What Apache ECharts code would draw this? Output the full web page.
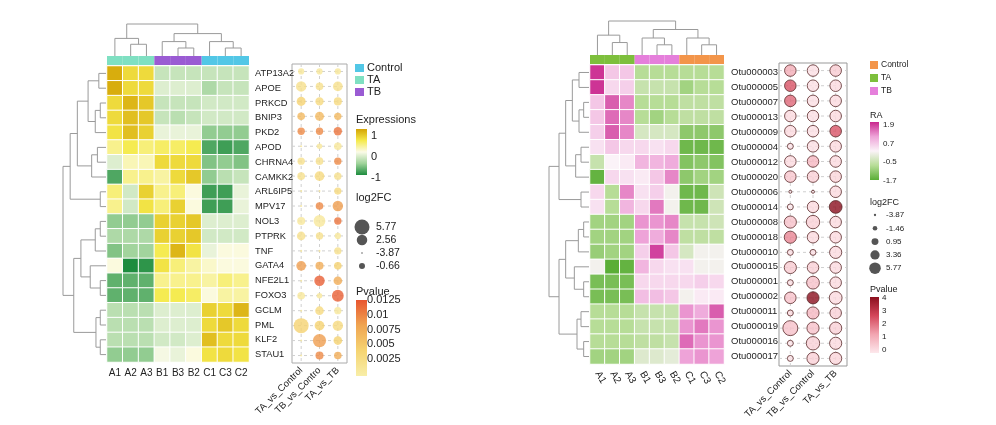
<!DOCTYPE html>
<html>
<head>
<meta charset="utf-8">
<script src="https://cdn.jsdelivr.net/npm/echarts@6/dist/echarts.min.js"></script>
<style>html,body{margin:0;padding:0;background:#fff}#main{width:996px;height:425px}</style>
</head>
<body>
<div id="main"></div>
<script>
// ---- left panel data ----
var leftCols = ['A1', 'A2', 'A3', 'B1', 'B3', 'B2', 'C1', 'C3', 'C2'];
var leftGroups = [1, 1, 1, 2, 2, 2, 0, 0, 0]; // 0 Control, 1 TA, 2 TB
var genes = ['ATP13A2', 'APOE', 'PRKCD', 'BNIP3', 'PKD2', 'APOD', 'CHRNA4', 'CAMKK2', 'ARL6IP5', 'MPV17',
    'NOL3', 'PTPRK', 'TNF', 'GATA4', 'NFE2L1', 'FOXO3', 'GCLM', 'PML', 'KLF2', 'STAU1'];
var expr = [
    [1.4, 0.9, 0.9, -0.5, -0.5, -0.5, -0.5, -0.5, -0.5],
    [1.4, 0.9, 0.9, -0.3, -0.3, -0.3, -0.7, -0.5, -0.5],
    [0.9, 1.3, 1.1, -0.5, -0.5, -0.5, -0.4, -0.4, -0.4],
    [0.9, 1.2, 1.1, -0.5, -0.6, -0.5, -0.4, -0.4, -0.4],
    [0.8, 1.2, 1.0, -0.2, -0.2, -0.2, -0.9, -0.9, -0.9],
    [0.4, 0.7, 0.5, 0.6, 0.6, 0.7, -1.3, -1.4, -1.3],
    [-0.3, 0.2, 0.2, 0.9, 0.9, 0.9, -1.0, -0.9, -1.0],
    [-1.3, 0.4, 0.4, 0.3, 0.9, 1.1, -0.9, -0.6, -0.5],
    [0.5, -0.4, 1.0, 0.4, 0.5, 0.0, -1.4, -1.4, -0.2],
    [0.4, -0.4, 0.8, 0.5, 1.0, 0.0, -1.4, -1.4, -0.2],
    [-0.9, -0.9, -0.9, 1.0, 1.0, 1.1, -0.3, -0.3, -0.3],
    [-0.7, -0.7, -0.7, 1.0, 1.0, 1.1, -0.4, -0.4, -0.4],
    [-1.0, -0.8, -0.8, 0.7, 1.3, 0.8, -0.2, 0.0, 0.0],
    [0.0, -1.6, -1.5, 0.8, 0.5, 0.3, 0.1, 0.0, 0.0],
    [-1.2, -1.2, -1.2, 0.4, 0.4, 0.4, 0.3, 0.5, 0.4],
    [-1.2, -1.2, -1.2, 0.7, 0.7, 0.6, 0.0, 0.3, 0.3],
    [-0.6, -0.6, -0.6, -0.3, -0.3, -0.3, 1.0, 0.9, 1.3],
    [-0.6, -0.6, -0.6, -0.3, -0.3, -0.3, 0.9, 1.1, 0.9],
    [-0.6, -0.6, -0.6, -0.4, -0.4, -0.3, 1.2, 0.9, 0.9],
    [-0.9, -0.9, -0.9, -0.1, -0.2, 0.0, 0.8, 0.9, 0.8]
];
var leftComps = ['TA_vs_Control', 'TB_vs_Contro', 'TA_vs_TB'];
// [log2FC, pvalue] per comparison
var leftFC = [
    [[-0.5, 0.002], [-0.5, 0.002], [-0.5, 0.002]],
    [[2.5, 0.003], [0.5, 0.003], [2.0, 0.003]],
    [[1.5, 0.005], [1.0, 0.004], [0.8, 0.004]],
    [[0.5, 0.007], [1.5, 0.007], [0.3, 0.007]],
    [[0.3, 0.010], [0.3, 0.010], [1.0, 0.011]],
    [[-3.5, 0.002], [-1.0, 0.002], [0.5, 0.002]],
    [[0.3, 0.003], [0.5, 0.003], [0.3, 0.010]],
    [[0.5, 0.003], [2.0, 0.004], [0.3, 0.003]],
    [[-3.5, 0.002], [-3.5, 0.002], [0.2, 0.004]],
    [[-3.5, 0.002], [0.5, 0.010], [2.5, 0.009]],
    [[0.8, 0.002], [3.5, 0.002], [0.3, 0.011]],
    [[1.2, 0.003], [0.3, 0.003], [-0.5, 0.002]],
    [[-3.5, 0.002], [-3.5, 0.002], [0.2, 0.003]],
    [[2.0, 0.009], [0.8, 0.008], [0.5, 0.005]],
    [[-3.5, 0.002], [2.5, 0.012], [1.2, 0.008]],
    [[0.5, 0.002], [-1.0, 0.002], [3.5, 0.012]],
    [[-3.5, 0.002], [1.2, 0.004], [0.2, 0.002]],
    [[5.77, 0.005], [2.0, 0.005], [2.5, 0.004]],
    [[-3.5, 0.002], [4.5, 0.009], [1.2, 0.005]],
    [[-3.5, 0.002], [0.8, 0.010], [0.5, 0.008]]
];
var leftColTree = [[0, [1, 2, 2.2], 3.3], [[3, [4, 5, 1.5], 2.7], [6, [7, 8, 1.5], 2.7], 4.2], 6];
var leftRowTree = [[[[[0, 1, 1], [[2, 3, 0.8], 4, 1.5], 2.5], [[5, 6, 1.2], 7, 2], 4], [8, 9, 0.8], 5],
    [[[[10, 11, 0.8], 12, 1.5], [13, [14, 15, 0.8], 2.2], 3.5], [[16, 17, 0.8], [18, 19, 0.8], 1.4], 4.5], 6];

// ---- right panel data ----
var rightCols = ['A1', 'A2', 'A3', 'B1', 'B3', 'B2', 'C1', 'C3', 'C2'];
var rightGroups = [1, 1, 1, 2, 2, 2, 0, 0, 0];
var otus = ['Otu000003', 'Otu000005', 'Otu000007', 'Otu000013', 'Otu000009', 'Otu000004', 'Otu000012', 'Otu000020',
    'Otu000006', 'Otu000014', 'Otu000008', 'Otu000018', 'Otu000010', 'Otu000015', 'Otu000001', 'Otu000002',
    'Otu000011', 'Otu000019', 'Otu000016', 'Otu000017'];
var ra = [
    [1.8, 0.6, 0.6, -0.8, -0.8, -0.8, -0.8, -0.8, -0.8],
    [1.8, 0.4, 0.5, -0.6, -0.6, -0.6, -1.0, -0.8, -0.8],
    [0.6, 1.5, 1.2, -0.8, -0.8, -0.8, -0.7, -0.7, -0.7],
    [0.6, 1.4, 1.2, -0.8, -1.0, -0.8, -0.7, -0.7, -0.7],
    [0.5, 1.5, 1.2, -0.4, -0.4, -0.4, -1.2, -1.2, -1.2],
    [0.3, 0.6, 0.4, 0.4, 0.3, 0.4, -1.5, -1.5, -1.5],
    [-0.6, 0.1, 0.2, 0.8, 0.8, 0.9, -1.3, -1.2, -1.3],
    [-1.6, 0.4, 0.3, 0.2, 0.6, 1.2, -1.2, -1.0, -1.0],
    [0.4, -0.8, 1.2, 0.3, 0.5, 0.0, -1.5, -1.5, -0.5],
    [0.3, -0.8, 0.8, 0.4, 1.3, 0.0, -1.5, -1.5, -0.5],
    [-1.0, -1.0, -1.0, 1.1, 1.1, 1.2, -0.6, -0.6, -0.5],
    [-1.0, -1.0, -1.0, 1.0, 0.9, 1.2, -0.7, -0.7, -0.7],
    [-1.1, -1.0, -1.0, 0.5, 1.7, 0.6, -0.4, 0.0, 0.0],
    [0.0, -1.7, -1.6, 0.8, 0.4, 0.3, 0.3, 0.0, 0.0],
    [-1.4, -1.4, -1.4, 0.4, 0.4, 0.4, 0.4, 0.5, 0.4],
    [-1.4, -1.4, -1.4, 0.7, 0.7, 0.6, 0.0, 0.2, 0.2],
    [-0.8, -0.8, -0.8, -0.6, -0.6, -0.6, 1.1, 0.9, 1.5],
    [-0.8, -0.8, -0.8, -0.6, -0.6, -0.6, 1.1, 1.3, 1.1],
    [-0.8, -0.8, -0.8, -0.7, -0.7, -0.6, 1.4, 1.1, 1.1],
    [-1.0, -1.0, -1.0, -0.3, -0.3, -0.2, 1.0, 1.1, 1.0]
];
var rightComps = ['TA_vs_Control', 'TB_vs_Control', 'TA_vs_TB'];
var rightFC = [
    [[3, 1.2], [3, 0.2], [3, 0.6]],
    [[3, 2.5], [3, 0.2], [3, 0.3]],
    [[3, 2.2], [3, 0.2], [3, 0.3]],
    [[3, 0.3], [3, 0.2], [3, 0.3]],
    [[3, 0.3], [3, 0.2], [3, 2.5]],
    [[-1.5, 0.1], [3, 0.2], [3, 0.3]],
    [[3, 0.3], [3, 1.0], [3, 0.3]],
    [[3, 0.7], [3, 0.5], [3, 0.4]],
    [[-3.87, 0], [-3.87, 0], [3, 0.3]],
    [[-1.5, 0], [3, 0.3], [4, 4]],
    [[3.5, 0.8], [4.5, 0.5], [3, 0.3]],
    [[3.5, 1.8], [3, 0.3], [3, 0.3]],
    [[-1.5, 0.2], [-1.5, 0.2], [3.5, 0.3]],
    [[3.5, 0.6], [3, 0.5], [3, 0.3]],
    [[-1.5, 0.2], [4, 0.8], [3, 0.3]],
    [[3, 0.8], [3.5, 4], [4, 0.3]],
    [[-1.5, 0.3], [3.5, 1.0], [3, 0.5]],
    [[5.77, 0.8], [3.5, 0.8], [3.5, 0.5]],
    [[-1.5, 0.1], [4.5, 0.5], [3.5, 0.3]],
    [[-1.5, 0.1], [3.5, 0.5], [3.5, 0.4]]
];
var rightColTree = [[0, [1, 2, 2.2], 3.5], [[3, [4, 5, 1.8], 3], [6, [7, 8, 1.8], 3], 4.5], 6];
var rightRowTree = [[[[[0, 1, 1.5], [[2, 3, 0.8], 4, 1.5], 2.5], [[5, 6, 1.2], 7, 2], 3.5], [8, 9, 1.2], 4.5],
    [[[[10, 11, 0.8], 12, 1.6], [13, [14, 15, 0.8], 2.2], 3.5], [[16, 17, 1.2], [18, 19, 0.8], 1.8], 4.5], 6];

var leftLegendFC = [5.77, 2.56, -3.87, -0.66];
var rightLegendFC = [-3.87, -1.46, 0.95, 3.36, 5.77];
var leftPTicks = ['0.0125', '0.01', '0.0075', '0.005', '0.0025'];
var rightPTicks = ['4', '3', '2', '1', '0'];
var raTicks = ['1.9', '0.7', '-0.5', '-1.7'];
var exprTicks = ['1', '0', '-1'];

var FONT = 'Liberation Sans';
var leftGroupColors = ['#52c7e6', '#7fe0c2', '#9a5bd3'];
var rightGroupColors = ['#f3954a', '#7dbf3c', '#e57fdb'];

function leftSize(v) { return 1.5 + (v + 3.87) / 9.64 * 13.5; }
function rightSize(v) { return 3 + (v + 3.87) / 9.64 * 12; }

// turn a nested tree into elbow segments [pos1, h1, pos2, h2]
function treeSegs(tree) {
    var out = [];
    function walk(n) {
        if (typeof n === 'number') return [n, 0];
        var a = walk(n[0]), b = walk(n[1]), h = n[2];
        out.push([a[0], a[1], a[0], h], [a[0], h, b[0], h], [b[0], h, b[0], b[1]]);
        return [(a[0] + b[0]) / 2, h];
    }
    walk(tree);
    return out;
}

function heatData(m) {
    var d = [];
    m.forEach(function (row, r) { row.forEach(function (v, c) { d.push([c, r, v]); }); });
    return d;
}
function bubbleData(m) {
    var d = [];
    m.forEach(function (row, r) { row.forEach(function (v, c) { d.push([c, r, v[0], v[1]]); }); });
    return d;
}

function dendroSeries(tree, xi, yi, flip) {
    return {
        type: 'custom', xAxisIndex: xi, yAxisIndex: yi, silent: true,
        data: treeSegs(tree),
        renderItem: function (params, api) {
            var a = flip ? [api.value(1), api.value(0)] : [api.value(0), api.value(1)];
            var b = flip ? [api.value(3), api.value(2)] : [api.value(2), api.value(3)];
            var p1 = api.coord(a), p2 = api.coord(b);
            return { type: 'line', shape: { x1: p1[0], y1: p1[1], x2: p2[0], y2: p2[1] },
                style: { stroke: '#9a9a9a', lineWidth: 1 } };
        }
    };
}

function dashSeries(nRows, nCols, xi, yi) {
    var d = [];
    for (var r = 0; r < nRows; r++) d.push([0, r, 0]);
    for (var c = 0; c < nCols; c++) d.push([c, 0, 1]);
    return {
        type: 'custom', xAxisIndex: xi, yAxisIndex: yi, silent: true, z: 1, data: d,
        renderItem: function (params, api) {
            var cs = params.coordSys, p = api.coord([api.value(0), api.value(1)]);
            var shape = api.value(2) === 0
                ? { x1: cs.x, y1: p[1], x2: cs.x + cs.width, y2: p[1] }
                : { x1: p[0], y1: cs.y, x2: p[0], y2: cs.y + cs.height };
            return { type: 'line', shape: shape, style: { stroke: '#d0d0d0', lineWidth: 1, lineDash: [3, 3] } };
        }
    };
}

function annoData(groups, colors) {
    return groups.map(function (g) { return { value: 1, itemStyle: { color: colors[g] } }; });
}

var hide = { show: false };
function catX(data, gi, extra) {
    return Object.assign({ type: 'category', data: data, gridIndex: gi, axisLine: hide, axisTick: hide, splitLine: hide }, extra || {});
}
function catY(data, gi, extra) {
    return Object.assign({ type: 'category', data: data, gridIndex: gi, inverse: true, axisLine: hide, axisTick: hide, splitLine: hide }, extra || {});
}
function valAxis(gi, min, max, extra) {
    return Object.assign({ type: 'value', gridIndex: gi, min: min, max: max, show: false }, extra || {});
}

var grids = [
    { left: 107, top: 66, width: 142, height: 296 },           // 0 left heat
    { left: 107, top: 56, width: 142, height: 9 },             // 1 left anno
    { left: 107, top: 24, width: 142, height: 32 },            // 2 left col dendro
    { left: 63, top: 66, width: 43, height: 296 },             // 3 left row dendro
    { left: 292, top: 64, width: 55, height: 299, show: true, borderColor: '#aaa', borderWidth: 1 }, // 4 left bubble
    { left: 590, top: 65, width: 134, height: 299 },           // 5 right heat
    { left: 590, top: 55, width: 134, height: 9 },             // 6 right anno
    { left: 590, top: 21, width: 134, height: 34 },            // 7 right col dendro
    { left: 549, top: 65, width: 40, height: 299 },            // 8 right row dendro
    { left: 779, top: 63, width: 68, height: 303, show: true, borderColor: '#999', borderWidth: 1 }  // 9 right bubble
];

var lbl = { fontFamily: FONT, color: '#222', fontSize: 10 };

var xAxes = [
    catX(leftCols, 0, { axisLabel: Object.assign({ margin: 6, interval: 0 }, lbl) }),
    catX(leftCols, 1, { show: false }),
    valAxis(2, -0.5, 8.5),
    valAxis(3, 0, 6, { inverse: true }),
    catX(leftComps, 4, { axisLabel: Object.assign({ rotate: 45, margin: 6, interval: 0 }, lbl, { fontSize: 9.5 }) }),
    catX(rightCols, 5, { axisLabel: Object.assign({ rotate: -60, margin: 8, interval: 0 }, lbl) }),
    catX(rightCols, 6, { show: false }),
    valAxis(7, -0.5, 8.5),
    valAxis(8, 0, 6, { inverse: true }),
    catX(rightComps, 9, { axisLabel: Object.assign({ rotate: 45, margin: 6, interval: 0 }, lbl, { fontSize: 9.5 }) })
];
var yAxes = [
    catY(genes, 0, { position: 'right', axisLabel: Object.assign({ margin: 6, interval: 0 }, lbl, { fontSize: 9.3 }) }),
    valAxis(1, 0, 1),
    valAxis(2, 0, 6),
    valAxis(3, -0.5, 19.5, { inverse: true }),
    catY(genes, 4, { show: false }),
    catY(otus, 5, { position: 'right', axisLabel: Object.assign({ margin: 7, interval: 0 }, lbl, { fontSize: 9.5 }) }),
    valAxis(6, 0, 1),
    valAxis(7, 0, 6),
    valAxis(8, -0.5, 19.5, { inverse: true }),
    catY(otus, 9, { show: false })
];

var series = [
    { type: 'heatmap', xAxisIndex: 0, yAxisIndex: 0, data: heatData(expr),
        itemStyle: { borderColor: '#fff', borderWidth: 1 } },
    { type: 'bar', xAxisIndex: 1, yAxisIndex: 1, data: annoData(leftGroups, leftGroupColors), barCategoryGap: '0%', silent: true },
    dendroSeries(leftColTree, 2, 2, false),
    dendroSeries(leftRowTree, 3, 3, true),
    dashSeries(genes.length, leftComps.length, 4, 4),
    { type: 'scatter', xAxisIndex: 4, yAxisIndex: 4, data: bubbleData(leftFC), z: 3,
        symbolSize: function (v) { return leftSize(v[2]); } },
    { type: 'heatmap', xAxisIndex: 5, yAxisIndex: 5, data: heatData(ra),
        itemStyle: { borderColor: '#fff', borderWidth: 1 } },
    { type: 'bar', xAxisIndex: 6, yAxisIndex: 6, data: annoData(rightGroups, rightGroupColors), barCategoryGap: '0%', silent: true },
    dendroSeries(rightColTree, 7, 7, false),
    dendroSeries(rightRowTree, 8, 8, true),
    dashSeries(otus.length, rightComps.length, 9, 9),
    { type: 'scatter', xAxisIndex: 9, yAxisIndex: 9, data: bubbleData(rightFC), z: 3,
        itemStyle: { borderColor: '#5a2b2b', borderWidth: 1 },
        symbolSize: function (v) { return rightSize(v[2]); } }
];

var exprColors = ['#1d8c3e', '#9fd39a', '#fbfbe8', '#f5ea4c', '#d4a404'];
var leftPColors = ['#f8eea8', '#f5d472', '#f0a552', '#e8552f'];
var raColors = ['#5aae36', '#b7dd97', '#fbf3f8', '#eea3d8', '#c9268d'];
var rightPColors = ['#fde8ec', '#f2a5b1', '#d4465a', '#8b0f1e'];

var visualMaps = [
    { show: false, seriesIndex: 0, dimension: 2, min: -1.6, max: 1.5, inRange: { color: exprColors } },
    { show: false, seriesIndex: 5, dimension: 3, min: 0.001, max: 0.0125, inRange: { color: leftPColors } },
    { show: false, seriesIndex: 6, dimension: 2, min: -1.7, max: 1.9, inRange: { color: raColors } },
    { show: false, seriesIndex: 11, dimension: 3, min: 0, max: 4, inRange: { color: rightPColors } }
];

// ---- legends ----
function grad(colors) {
    var stops = colors.slice().reverse().map(function (c, i) { return { offset: i / (colors.length - 1), color: c }; });
    return new echarts.graphic.LinearGradient(0, 0, 0, 1, stops);
}
function txt(x, y, s, size) {
    return { type: 'text', x: x, y: y, style: { text: s, fontFamily: FONT, fontSize: size || 11, fill: '#222', verticalAlign: 'middle' } };
}
var g = [];
// left legend
['Control', 'TA', 'TB'].forEach(function (n, i) {
    g.push({ type: 'rect', shape: { x: 355, y: 64 + i * 12, width: 9, height: 8 }, style: { fill: leftGroupColors[i] } });
    g.push(txt(367, 68 + i * 12, n, 11));
});
g.push(txt(356, 120, 'Expressions', 11));
g.push({ type: 'rect', shape: { x: 356, y: 129, width: 11, height: 46 }, style: { fill: grad(exprColors) } });
exprTicks.forEach(function (t, i) { g.push(txt(371, 136 + i * 21, t, 11)); });
g.push(txt(356, 198, 'log2FC', 11));
leftLegendFC.forEach(function (v, i) {
    g.push({ type: 'circle', shape: { cx: 362, cy: 227 + i * 13, r: leftSize(v) / 2 }, style: { fill: '#555' } });
    g.push(txt(376, 227 + i * 13, String(v), 10.5));
});
g.push(txt(356, 292, 'Pvalue', 11));
g.push({ type: 'rect', shape: { x: 356, y: 300, width: 11, height: 76 }, style: { fill: grad(leftPColors) } });
leftPTicks.forEach(function (t, i) { g.push(txt(367, 300 + i * 14.8, t, 11)); });
// right legend
['Control', 'TA', 'TB'].forEach(function (n, i) {
    g.push({ type: 'rect', shape: { x: 870, y: 61 + i * 13, width: 8, height: 8 }, style: { fill: rightGroupColors[i] } });
    g.push(txt(881, 65 + i * 13, n, 8.5));
});
g.push(txt(870, 116, 'RA', 9));
g.push({ type: 'rect', shape: { x: 870, y: 122, width: 9, height: 58 }, style: { fill: grad(raColors) } });
raTicks.forEach(function (t, i) { g.push(txt(883, 125 + i * 18.5, t, 8)); });
g.push(txt(870, 203, 'log2FC', 9));
rightLegendFC.forEach(function (v, i) {
    g.push({ type: 'circle', shape: { cx: 875, cy: 215 + i * 13.3, r: rightSize(v) / 2.6 }, style: { fill: '#555' } });
    g.push(txt(886, 215 + i * 13.3, String(v), 8));
});
g.push(txt(870, 290, 'Pvalue', 9));
g.push({ type: 'rect', shape: { x: 870, y: 297, width: 9, height: 56 }, style: { fill: grad(rightPColors) } });
rightPTicks.forEach(function (t, i) { g.push(txt(882, 298 + i * 13, t, 8)); });

var option = {
    animation: false,
    backgroundColor: '#fff',
    grid: grids,
    xAxis: xAxes,
    yAxis: yAxes,
    visualMap: visualMaps,
    series: series,
    graphic: g
};

var myChart = echarts.init(document.getElementById('main'));
myChart.setOption(option);
</script>
</body>
</html>
